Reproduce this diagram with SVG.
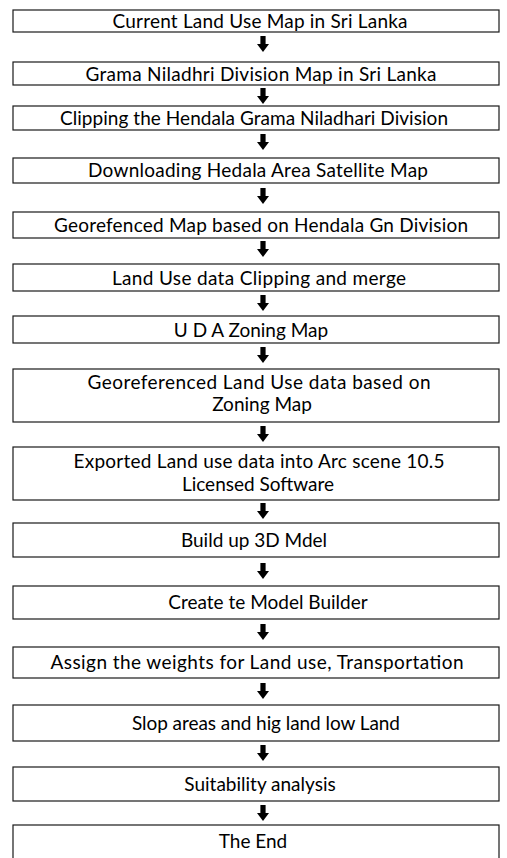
<svg xmlns="http://www.w3.org/2000/svg" width="507" height="858" viewBox="0 0 507 858">
<defs>
<style>
.box{fill:#ffffff;stroke:#1a1a1a;stroke-width:1.2}
.t{font-family:Lato,"Open Sans","Liberation Sans",sans-serif;font-size:19px;fill:#000;text-anchor:middle}
.arr{fill:#000}
</style>
<path id="a" d="M-2.6,0 H2.6 V8 H6 L0,16 L-6,8 H-2.6 Z"/>
</defs>
<rect width="507" height="858" fill="#ffffff"/>
<g id="n1"><rect class="box" x="13" y="10" width="486" height="22"/><text class="t" x="260" y="27.5" textLength="295">Current Land Use Map in Sri Lanka</text></g>
<g id="n2"><rect class="box" x="13" y="62" width="486" height="23"/><text class="t" x="261" y="80.5" textLength="351">Grama Niladhri Division Map in Sri Lanka</text></g>
<g id="n3"><rect class="box" x="13" y="106" width="486" height="24"/><text class="t" x="254" y="124.5" textLength="388">Clipping the Hendala Grama Niladhari Division</text></g>
<g id="n4"><rect class="box" x="13" y="158" width="486" height="25"/><text class="t" x="258" y="177" textLength="340">Downloading Hedala Area Satellite Map</text></g>
<g id="n5"><rect class="box" x="13" y="212" width="486" height="26"/><text class="t" x="261" y="231.5" textLength="414">Georefenced Map based on Hendala Gn Division</text></g>
<g id="n6"><rect class="box" x="13" y="264" width="486" height="27"/><text class="t" x="259" y="284.5" textLength="294">Land Use data Clipping and merge</text></g>
<g id="n7"><rect class="box" x="13" y="316" width="486" height="27"/><text class="t" x="251" y="336.5">U D A Zoning Map</text></g>
<g id="n8"><rect class="box" x="13" y="369" width="486" height="53"/><text class="t" x="259" y="389" textLength="343">Georeferenced Land Use data based on</text><text class="t" x="262" y="411">Zoning Map</text></g>
<g id="n9"><rect class="box" x="13" y="447" width="486" height="53"/><text class="t" x="259" y="468" textLength="371">Exported Land use data into Arc scene 10.5</text><text class="t" x="258" y="491">Licensed Software</text></g>
<g id="n10"><rect class="box" x="13" y="523" width="486" height="34"/><text class="t" x="254" y="546.5">Build up 3D Mdel</text></g>
<g id="n11"><rect class="box" x="13" y="586" width="486" height="33"/><text class="t" x="268" y="609">Create te Model Builder</text></g>
<g id="n12"><rect class="box" x="13" y="647" width="486" height="31"/><text class="t" x="257" y="669" textLength="413">Assign the weights for Land use, Transportation</text></g>
<g id="n13"><rect class="box" x="13" y="705" width="486" height="36"/><text class="t" x="266" y="729.5" textLength="268">Slop areas and hig land low Land</text></g>
<g id="n14"><rect class="box" x="13" y="767" width="486" height="34"/><text class="t" x="260" y="790.5">Suitability analysis</text></g>
<g id="n15"><rect class="box" x="13" y="825" width="486" height="40"/><text class="t" x="253" y="848">The End</text></g>
<g id="connectors" class="arr">
<use href="#a" x="263" y="36"/>
<use href="#a" x="263" y="88"/>
<use href="#a" x="263" y="134"/>
<use href="#a" x="263" y="188"/>
<use href="#a" x="263" y="241"/>
<use href="#a" x="263" y="295"/>
<use href="#a" x="263" y="347"/>
<use href="#a" x="263" y="426"/>
<use href="#a" x="263" y="503"/>
<use href="#a" x="263" y="563"/>
<use href="#a" x="263" y="624"/>
<use href="#a" x="263" y="683"/>
<use href="#a" x="263" y="745"/>
<use href="#a" x="263" y="805"/>
</g>
</svg>
